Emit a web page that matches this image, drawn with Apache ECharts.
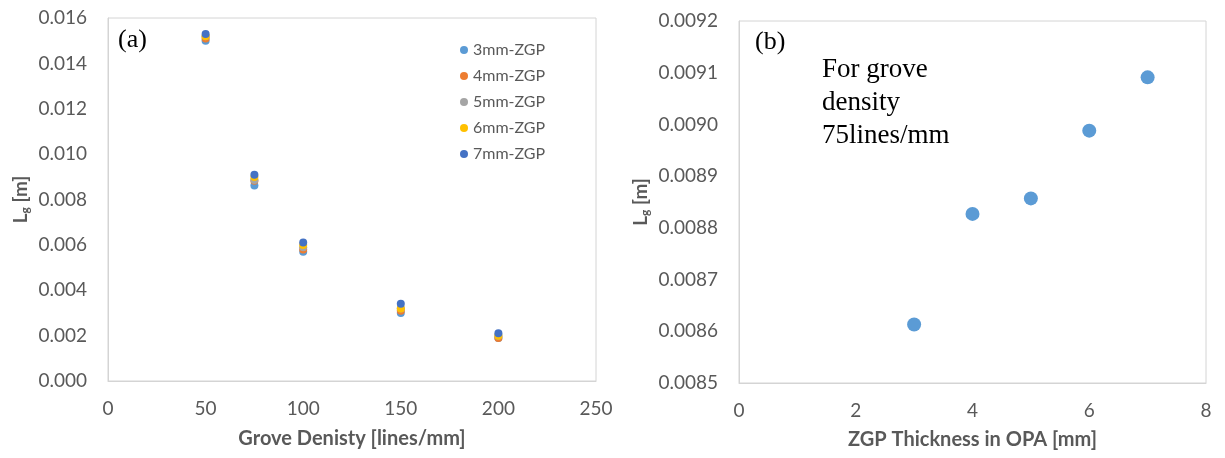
<!DOCTYPE html>
<html>
<head>
<meta charset="utf-8">
<script src="https://cdn.jsdelivr.net/npm/echarts@6/dist/echarts.min.js"></script>
<style>
html,body{margin:0;padding:0;background:#fff;}
#chart{width:1225px;height:458px;}
</style>
</head>
<body>
<div id="chart"></div>
<script>
// ---- Data ----
var densities = [50, 75, 100, 150, 200];
var seriesNames = ['3mm-ZGP', '4mm-ZGP', '5mm-ZGP', '6mm-ZGP', '7mm-ZGP'];
var lg3mm = [0.0150, 0.008613, 0.0057, 0.0030, 0.0019];
var lg4mm = [0.0151, 0.008827, 0.0058, 0.0031, 0.0019];
var lg5mm = [0.0152, 0.008857, 0.0059, 0.0032, 0.0020];
var lg6mm = [0.0152, 0.008988, 0.0060, 0.0032, 0.0020];
var lg7mm = [0.0153, 0.009091, 0.0061, 0.0034, 0.0021];
var thickness = [3, 4, 5, 6, 7];
var lgAt75 = [0.008613, 0.008827, 0.008857, 0.008988, 0.009091];
var colors = ['#5B9BD5', '#ED7D31', '#A5A5A5', '#FFC000', '#4472C4'];

var leftSets = [lg3mm, lg4mm, lg5mm, lg6mm, lg7mm];
function pairs(xs, ys) { return xs.map(function (x, i) { return [x, ys[i]]; }); }

var axisFont = 'Lato, "Open Sans", sans-serif';
var gray = '#595959';
var frame = '#d4d4d4';

var nameRich = {
  a: { fontFamily: axisFont, fontWeight: 'bold', fontSize: 19, color: gray },
  s: { fontFamily: axisFont, fontWeight: 'bold', fontSize: 12, color: gray, verticalAlign: 'bottom', padding: [9, 0, 0, 0] }
};

function valueAxis(gridIndex, min, max, interval, digits, extra) {
  var a = {
    type: 'value', gridIndex: gridIndex, min: min, max: max, interval: interval,
    axisLine: { show: true, lineStyle: { color: frame, width: 1 } },
    axisTick: { show: false },
    splitLine: { show: false },
    axisLabel: {
      fontFamily: axisFont, fontSize: 19, color: gray, margin: 21,
      formatter: function (v) { return digits === null ? String(Math.round(v)) : v.toFixed(digits); }
    }
  };
  for (var k in extra) a[k] = extra[k];
  return a;
}

var series = [];
leftSets.forEach(function (ys, i) {
  series.push({
    name: seriesNames[i], type: 'scatter', xAxisIndex: 0, yAxisIndex: 0,
    symbol: 'circle', symbolSize: 8, itemStyle: { color: colors[i], opacity: 1 },
    data: pairs(densities, ys)
  });
});
series.push({
  name: 'OPA', type: 'scatter', xAxisIndex: 1, yAxisIndex: 1,
  symbol: 'circle', symbolSize: 14, itemStyle: { color: '#5B9BD5', opacity: 1 },
  data: pairs(thickness, lgAt75)
});

var xTitleStyle = { fontFamily: axisFont, fontWeight: 'bold', fontSize: 20, color: gray };
var xLabelStyle = { fontFamily: axisFont, fontSize: 19, color: gray, margin: 18 };

var option = {
  animation: false,
  backgroundColor: '#fff',
  grid: [
    { left: 108, top: 18, width: 488, height: 363, show: true, borderColor: frame, borderWidth: 1 },
    { left: 739, top: 21, width: 467, height: 362, show: true, borderColor: frame, borderWidth: 1 }
  ],
  xAxis: [
    valueAxis(0, 0, 250, 50, null, {
      name: 'Grove Denisty [lines/mm]', nameLocation: 'middle', nameGap: 48,
      nameTextStyle: xTitleStyle, axisLabel: xLabelStyle
    }),
    valueAxis(1, 0, 8, 2, null, {
      name: 'ZGP Thickness in OPA [mm]', nameLocation: 'middle', nameGap: 47,
      nameTextStyle: xTitleStyle, axisLabel: xLabelStyle
    })
  ],
  yAxis: [
    valueAxis(0, 0, 0.016, 0.002, 3, {
      name: '{a|L}{s|g}{a| [m]}', nameLocation: 'middle', nameGap: 77,
      nameTextStyle: { rich: nameRich }
    }),
    valueAxis(1, 0.0085, 0.0092, 0.0001, 4, {
      name: '{a|L}{s|g}{a| [m]}', nameLocation: 'middle', nameGap: 88,
      nameTextStyle: { rich: nameRich }
    })
  ],
  legend: {
    data: seriesNames, orient: 'vertical', left: 455, top: 37,
    icon: 'circle', itemWidth: 8, itemHeight: 8, itemGap: 10,
    textStyle: { fontFamily: axisFont, fontSize: 16, color: gray }
  },
  graphic: [
    { type: 'text', left: 118, top: 27, style: { text: '(a)', font: '26px "Liberation Serif", serif', fill: '#000' } },
    { type: 'text', left: 755, top: 29, style: { text: '(b)', font: '26px "Liberation Serif", serif', fill: '#000' } },
    { type: 'text', left: 822, top: 53, style: { text: 'For grove\ndensity\n75lines/mm', font: '27px "Liberation Serif", serif', lineHeight: 33, fill: '#000' } }
  ],
  series: series
};

var chart = echarts.init(document.getElementById('chart'), null, { renderer: 'canvas' });
chart.setOption(option);
</script>
</body>
</html>
